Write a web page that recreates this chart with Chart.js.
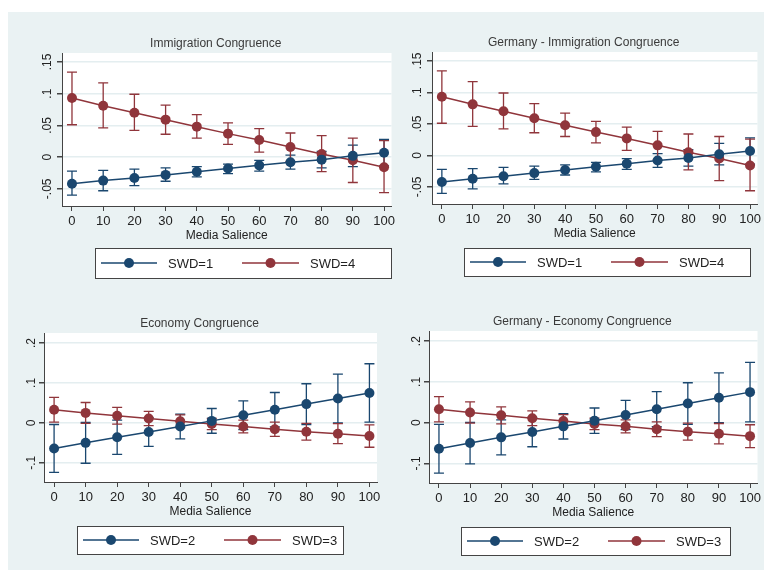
<!DOCTYPE html>
<html>
<head>
<meta charset="utf-8">
<script src="https://cdn.jsdelivr.net/npm/chart.js@4.4.0/dist/chart.umd.min.js"></script>
<style>
  body { margin: 0; background: #fff; }
  #page { position: relative; width: 783px; height: 570px; overflow: hidden; }
  #bg { position: absolute; left: 8px; top: 12px; width: 756px; height: 558px; background: #eaf2f3; }
  canvas { position: absolute; }
</style>
</head>
<body>
<div id="page">
  <div id="bg"></div>
  <canvas id="c1" width="390" height="280" style="left:8px;top:12px"></canvas>
  <canvas id="c2" width="366" height="280" style="left:398px;top:12px"></canvas>
  <canvas id="c3" width="390" height="278" style="left:8px;top:292px"></canvas>
  <canvas id="c4" width="366" height="278" style="left:398px;top:292px"></canvas>
</div>
<script>
// media salience values
const xVals = [0, 10, 20, 30, 40, 50, 60, 70, 80, 90, 100];

// immigration congruence (same estimates in both immigration panels)
const immSwd1 = [-0.042, -0.037, -0.033, -0.028, -0.023, -0.018, -0.013, -0.008, -0.004, 0.002, 0.007];
const immSwd1Lo = [-0.060, -0.053, -0.045, -0.038, -0.031, -0.026, -0.022, -0.019, -0.017, -0.015, -0.014];
const immSwd1Hi = [-0.022, -0.021, -0.019, -0.017, -0.015, -0.011, -0.005, 0.003, 0.009, 0.019, 0.028];
const immSwd4 = [0.093, 0.081, 0.070, 0.059, 0.048, 0.037, 0.027, 0.016, 0.005, -0.005, -0.016];
const immSwd4Lo = [0.051, 0.046, 0.042, 0.036, 0.030, 0.020, 0.008, -0.007, -0.023, -0.040, -0.056];
const immSwd4Hi = [0.134, 0.117, 0.099, 0.082, 0.067, 0.054, 0.045, 0.038, 0.034, 0.030, 0.026];

// economy congruence
const ecoSwd2 = [-0.064, -0.050, -0.036, -0.023, -0.009, 0.005, 0.019, 0.033, 0.047, 0.061, 0.075];
const ecoSwd2Lo = [-0.124, -0.101, -0.079, -0.059, -0.040, -0.026, -0.017, -0.010, -0.004, 0.000, 0.002];
const ecoSwd2Hi = [-0.004, 0.001, 0.007, 0.013, 0.022, 0.036, 0.055, 0.076, 0.098, 0.122, 0.148];
const ecoSwd3 = [0.033, 0.025, 0.018, 0.011, 0.004, -0.003, -0.009, -0.016, -0.022, -0.027, -0.033];
const ecoSwd3Lo = [0.002, -0.001, -0.003, -0.007, -0.012, -0.017, -0.025, -0.034, -0.043, -0.052, -0.061];
const ecoSwd3Hi = [0.064, 0.051, 0.039, 0.029, 0.020, 0.011, 0.007, 0.002, -0.001, -0.002, -0.005];

// axis ticks
const immTicks = [-0.05, 0, 0.05, 0.1, 0.15];
const immTickLabels = ['-.05', '0', '.05', '.1', '.15'];
const ecoTicks = [-0.1, 0, 0.1, 0.2];
const ecoTickLabels = ['-.1', '0', '.1', '.2'];

const BLUE = '#1a476f';
const RED = '#90353b';
const FONT = '"Liberation Sans", Arial, sans-serif';

// white plot region, error bars, title and the boxed legend
const decor = {
  id: 'decor',
  beforeDraw(chart) {
    const a = chart.chartArea, ctx = chart.ctx;
    ctx.save();
    ctx.fillStyle = '#fff';
    ctx.fillRect(a.left, a.top, a.right - a.left, a.bottom - a.top);
    ctx.restore();
  },
  beforeDatasetsDraw(chart) {
    const ctx = chart.ctx, xs = chart.scales.x, ys = chart.scales.y;
    ctx.save();
    chart.data.datasets.forEach(ds => {
      ctx.strokeStyle = ds.borderColor;
      ctx.lineWidth = 1.3;
      ds.data.forEach((p, i) => {
        const x = xs.getPixelForValue(p.x);
        const y1 = ys.getPixelForValue(ds.lo[i]);
        const y2 = ys.getPixelForValue(ds.hi[i]);
        ctx.beginPath();
        ctx.moveTo(x, y1); ctx.lineTo(x, y2);
        ctx.moveTo(x - 5, y1); ctx.lineTo(x + 5, y1);
        ctx.moveTo(x - 5, y2); ctx.lineTo(x + 5, y2);
        ctx.stroke();
      });
    });
    ctx.restore();
  },
  afterDraw(chart, args, opts) {
    const ctx = chart.ctx, a = chart.chartArea;
    ctx.save();
    ctx.fillStyle = '#3a3a3a';
    ctx.font = '12px ' + FONT;
    ctx.textAlign = 'center';
    ctx.textBaseline = 'middle';
    ctx.fillText(opts.title, (a.left + a.right) / 2 - 11, a.top - 9);

    const lg = opts.legend;
    ctx.fillStyle = '#fff';
    ctx.fillRect(lg.x, lg.y, lg.w, lg.h);
    ctx.strokeStyle = '#444';
    ctx.lineWidth = 1;
    ctx.strokeRect(lg.x + 0.5, lg.y + 0.5, lg.w, lg.h);
    const cy = lg.y + lg.h / 2;
    const slots = [[6, 62, 73], [147, 204, 215]];
    chart.data.datasets.forEach((ds, k) => {
      const s = slots[k];
      ctx.strokeStyle = ds.borderColor;
      ctx.lineWidth = 1.5;
      ctx.beginPath();
      ctx.moveTo(lg.x + s[0], cy); ctx.lineTo(lg.x + s[1], cy);
      ctx.stroke();
      ctx.fillStyle = ds.borderColor;
      ctx.beginPath();
      ctx.arc(lg.x + (s[0] + s[1]) / 2, cy, 5, 0, Math.PI * 2);
      ctx.fill();
      ctx.fillStyle = '#222';
      ctx.font = '13px ' + FONT;
      ctx.textAlign = 'left';
      ctx.fillText(ds.label, lg.x + s[2], cy + 1);
    });
    ctx.restore();
  }
};

function series(label, ys, lo, hi, color) {
  return {
    label: label,
    data: xVals.map((x, i) => ({ x: x, y: ys[i] })),
    lo: lo, hi: hi,
    borderColor: color,
    backgroundColor: color,
    borderWidth: 1.5,
    pointRadius: 5,
    pointBackgroundColor: color,
    pointBorderWidth: 0,
    tension: 0
  };
}

function makePanel(id, title, datasets, yr, ticks, labels, box, legend) {
  const canvas = document.getElementById(id);
  const W = canvas.width, H = canvas.height;
  new Chart(canvas, {
    type: 'line',
    data: { datasets: datasets },
    plugins: [decor],
    options: {
      responsive: false,
      animation: false,
      layout: { padding: { left: 0, top: box.top, right: W - box.right, bottom: H - box.bottom - 37 } },
      plugins: {
        legend: { display: false },
        tooltip: { enabled: false },
        decor: { title: title, legend: legend }
      },
      scales: {
        x: {
          type: 'linear', min: -3.2, max: 102.4,
          afterBuildTicks: ax => { ax.ticks = xVals.map(v => ({ value: v })); },
          afterFit: ax => { ax.height = 37; },
          ticks: { color: '#222', font: { family: FONT, size: 13 }, padding: 3, maxRotation: 0, callback: v => String(v) },
          grid: { drawOnChartArea: false, drawTicks: true, tickLength: 5, tickColor: '#444' },
          border: { color: '#444', width: 1 },
          title: { display: true, text: 'Media Salience', color: '#222', font: { family: FONT, size: 12 }, padding: 0 }
        },
        y: {
          type: 'linear', min: yr[0], max: yr[1],
          afterBuildTicks: ax => { ax.ticks = ticks.map(v => ({ value: v })); },
          afterFit: ax => { ax.width = box.left; },
          ticks: {
            color: '#222', font: { family: FONT, size: 12 }, minRotation: 90, maxRotation: 90,
            crossAlign: 'center', padding: box.tickPad,
            callback: (v, i) => labels[i]
          },
          grid: { color: '#e4eef0', lineWidth: 1.5, tickLength: 5, tickColor: '#444' },
          border: { color: '#444', width: 1 }
        }
      }
    }
  });
}

makePanel('c1', 'Immigration Congruence',
  [series('SWD=1', immSwd1, immSwd1Lo, immSwd1Hi, BLUE), series('SWD=4', immSwd4, immSwd4Lo, immSwd4Hi, RED)],
  [-0.077, 0.164], immTicks, immTickLabels,
  { left: 54, top: 41, right: 385, bottom: 194, tickPad: -1 },
  { x: 87, y: 236, w: 296, h: 30 });

makePanel('c2', 'Germany - Immigration Congruence',
  [series('SWD=1', immSwd1, immSwd1Lo, immSwd1Hi, BLUE), series('SWD=4', immSwd4, immSwd4Lo, immSwd4Hi, RED)],
  [-0.077, 0.164], immTicks, immTickLabels,
  { left: 34, top: 40, right: 365, bottom: 192, tickPad: -1 },
  { x: 66, y: 236, w: 286, h: 28 });

makePanel('c3', 'Economy Congruence',
  [series('SWD=2', ecoSwd2, ecoSwd2Lo, ecoSwd2Hi, BLUE), series('SWD=3', ecoSwd3, ecoSwd3Lo, ecoSwd3Hi, RED)],
  [-0.148, 0.225], ecoTicks, ecoTickLabels,
  { left: 36, top: 41, right: 369, bottom: 190, tickPad: 0 },
  { x: 69, y: 234, w: 266, h: 28 });

makePanel('c4', 'Germany - Economy Congruence',
  [series('SWD=2', ecoSwd2, ecoSwd2Lo, ecoSwd2Hi, BLUE), series('SWD=3', ecoSwd3, ecoSwd3Lo, ecoSwd3Hi, RED)],
  [-0.148, 0.225], ecoTicks, ecoTickLabels,
  { left: 31, top: 39, right: 364, bottom: 191, tickPad: 0 },
  { x: 63, y: 235, w: 269, h: 28 });
</script>
</body>
</html>
